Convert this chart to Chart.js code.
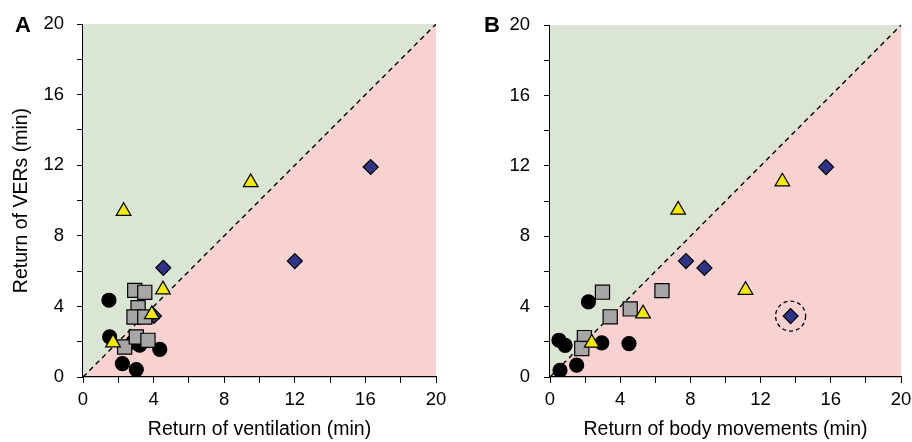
<!DOCTYPE html>
<html>
<head>
<meta charset="utf-8">
<script src="https://cdn.jsdelivr.net/npm/chart.js@4.4.1/dist/chart.umd.min.js"></script>
<style>
  html, body { margin: 0; padding: 0; background: #ffffff; }
  #wrap { position: relative; width: 912px; height: 442px; overflow: hidden; }
  .pane { position: absolute; top: 0; height: 442px; }
  .lab { position: absolute; font-family: "Liberation Sans", Arial, sans-serif; font-weight: bold; font-size: 22px; line-height: 22px; color: #000; }
</style>
</head>
<body>
<div id="wrap">
  <div class="pane" style="left:0;width:460px;"><canvas id="cA" width="460" height="442"></canvas></div>
  <div class="pane" style="left:460px;width:460px;"><canvas id="cB" width="460" height="442"></canvas></div>
  <div class="lab" style="left:15px;top:14px;">A</div>
  <div class="lab" style="left:484px;top:14px;">B</div>
</div>
<script>
// ---------- data: panel A (x = return of ventilation, y = return of VERs), minutes ----------
const A_circles_x   = [1.47, 1.51, 2.83, 3.21, 4.35, 2.23, 3.02];
const A_circles_y   = [4.35, 2.27, 1.98, 1.80, 1.57, 0.76, 0.42];
const A_squares_x   = [2.93, 3.50, 3.12, 2.89, 3.50, 2.36, 3.02, 3.68];
const A_squares_y   = [4.91, 4.80, 3.93, 3.40, 3.40, 1.70, 2.27, 2.08];
const A_triangles_x = [2.30, 9.50, 4.53, 3.90, 1.70];
const A_triangles_y = [9.40, 11.03, 4.95, 3.55, 1.95];
const A_diamonds_x  = [4.55, 4.02, 16.30, 12.00];
const A_diamonds_y  = [6.19, 3.46, 11.90, 6.57];

// ---------- data: panel B (x = return of body movements, y = return of VERs), minutes ----------
const B_circles_x   = [0.57, 1.52, 0.51, 0.86, 2.95, 4.50, 2.19];
const B_circles_y   = [0.38, 0.67, 2.09, 1.80, 1.94, 1.90, 4.27];
const B_squares_x   = [2.99, 6.38, 3.43, 4.57, 1.96, 1.81];
const B_squares_y   = [4.82, 4.91, 3.42, 3.87, 2.24, 1.62];
const B_triangles_x = [7.30, 13.24, 11.14, 5.30, 2.38];
const B_triangles_y = [9.50, 11.10, 4.94, 3.60, 1.94];
const B_diamonds_x  = [7.75, 8.80, 15.73, 13.71];
const B_diamonds_y  = [6.59, 6.20, 11.93, 3.46];
const B_highlight   = [13.71, 3.46];   // circled point

// ---------- axes ----------
const axisMin = 0, axisMax = 20, tickStep = 2, labelEvery = 4;
const identityLine_x = [0, 20];
const identityLine_y = [0, 20];

const GREEN = 'rgb(218,229,211)';
const PINK  = 'rgb(247,210,209)';
const FONT  = '"Liberation Sans", Arial, sans-serif';

function pts(xs, ys) { return xs.map((x, i) => ({ x: x, y: ys[i] })); }

const bgPlugin = {
  id: 'bgPink',
  beforeDraw(chart) {
    const a = chart.chartArea, c = chart.ctx;
    c.save(); c.fillStyle = PINK; c.fillRect(a.left, a.top, a.right - a.left, a.bottom - a.top); c.restore();
  }
};

const ringPlugin = {
  id: 'ring',
  afterDatasetsDraw(chart, args, opts) {
    if (!opts || !opts.point) return;
    const c = chart.ctx;
    const px = chart.scales.x.getPixelForValue(opts.point[0]);
    const py = chart.scales.y.getPixelForValue(opts.point[1]);
    c.save();
    c.beginPath();
    c.setLineDash([4, 3]);
    c.lineWidth = 1.3;
    c.strokeStyle = '#000';
    c.arc(px, py, 15, 0, Math.PI * 2);
    c.stroke();
    c.restore();
  }
};

function makePanel(id, d, cfg) {
  const ctx = document.getElementById(id);
  const common = { showLine: false, borderColor: '#000', borderWidth: 1.2 };
  new Chart(ctx, {
    type: 'scatter',
    data: {
      datasets: [
        Object.assign({ label: 'tri', data: pts(d.tx, d.ty), pointStyle: 'triangle', pointRadius: 8.5, backgroundColor: '#f4ea00', order: 0 }, common),
        Object.assign({ label: 'sq', data: pts(d.sx, d.sy), pointStyle: 'rect', pointRadius: 10, backgroundColor: '#a6a6a6', order: 1 }, common),
        Object.assign({ label: 'dia', data: pts(d.dx, d.dy), pointStyle: 'rectRot', pointRadius: 7.5, backgroundColor: '#2f3488', order: 2 }, common),
        Object.assign({ label: 'circ', data: pts(d.cx, d.cy), pointStyle: 'circle', pointRadius: 7, backgroundColor: '#000', order: 3 }, common),
        {
          label: 'identity', data: pts(identityLine_x, identityLine_y), showLine: true,
          borderColor: '#000', borderWidth: 1.4, borderDash: [5, 4], pointRadius: 0,
          fill: 'end', backgroundColor: GREEN, order: 10
        }
      ]
    },
    options: {
      responsive: false,
      animation: false,
      events: [],
      layout: { padding: { left: cfg.padLeft, right: cfg.padRight, top: 24, bottom: 0 } },
      plugins: {
        legend: { display: false },
        tooltip: { enabled: false },
        ring: { point: cfg.ring || null }
      },
      scales: {
        x: {
          type: 'linear', min: axisMin, max: axisMax,
          afterFit(s) { s.height = 65; },
          ticks: {
            stepSize: tickStep, padding: 6, color: '#000', maxRotation: 0, autoSkip: false,
            font: { family: FONT, size: 18.5 },
            callback: v => (v % labelEvery === 0 ? String(v) : '')
          },
          grid: { display: true, drawOnChartArea: false, drawTicks: true, tickLength: 6, color: '#000', lineWidth: 1 },
          border: { display: true, color: '#000', width: 1.2 },
          title: { display: true, text: cfg.xTitle, color: '#000', font: { family: FONT, size: 19.5 }, padding: { top: 0, bottom: 1 } }
        },
        y: {
          type: 'linear', min: axisMin, max: axisMax,
          afterFit(s) { s.width = cfg.yWidth; },
          ticks: {
            stepSize: tickStep, padding: cfg.yPad, color: '#000', autoSkip: false,
            font: { family: FONT, size: 18.5 },
            callback: v => (v % labelEvery === 0 ? String(v) : '')
          },
          grid: { display: true, drawOnChartArea: false, drawTicks: true, tickLength: 6, color: '#000', lineWidth: 1 },
          border: { display: true, color: '#000', width: 1.2 },
          title: { display: !!cfg.yTitle, text: cfg.yTitle || '', color: '#000', font: { family: FONT, size: 19.5 }, padding: { top: 10, bottom: 0 } }
        }
      }
    },
    plugins: [bgPlugin, ringPlugin]
  });
}

makePanel('cA',
  { cx: A_circles_x, cy: A_circles_y, sx: A_squares_x, sy: A_squares_y, tx: A_triangles_x, ty: A_triangles_y, dx: A_diamonds_x, dy: A_diamonds_y },
  { padLeft: 0, padRight: 24, yWidth: 83, yPad: 13, xTitle: 'Return of ventilation (min)', yTitle: 'Return of VERs (min)' });

makePanel('cB',
  { cx: B_circles_x, cy: B_circles_y, sx: B_squares_x, sy: B_squares_y, tx: B_triangles_x, ty: B_triangles_y, dx: B_diamonds_x, dy: B_diamonds_y },
  { padLeft: 0, padRight: 19, yWidth: 90, yPad: 14, xTitle: 'Return of body movements (min)', yTitle: '', ring: B_highlight });
</script>
</body>
</html>
